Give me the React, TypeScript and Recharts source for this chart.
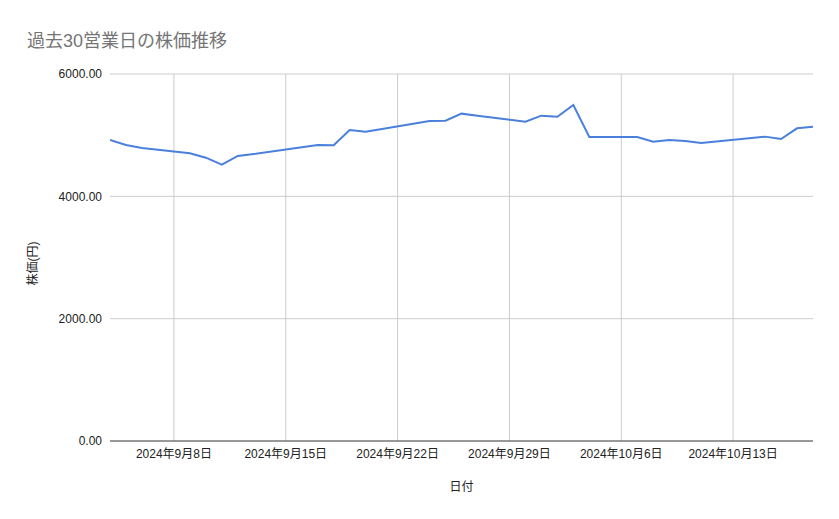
import { LineChart, Line, XAxis, YAxis, Label, ReferenceLine } from 'recharts';

// 過去30営業日（祝日は除外）
const dates = [
  '2024-09-04', '2024-09-05', '2024-09-06', '2024-09-09', '2024-09-10',
  '2024-09-11', '2024-09-12', '2024-09-13', '2024-09-17', '2024-09-18',
  '2024-09-19', '2024-09-20', '2024-09-24', '2024-09-25', '2024-09-26',
  '2024-09-27', '2024-09-30', '2024-10-01', '2024-10-02', '2024-10-03',
  '2024-10-04', '2024-10-07', '2024-10-08', '2024-10-09', '2024-10-10',
  '2024-10-11', '2024-10-15', '2024-10-16', '2024-10-17', '2024-10-18',
];

const prices = [
  4921, 4840, 4790, 4704, 4632,
  4518, 4660, 4692, 4840, 4834,
  5085, 5057, 5232, 5237, 5352,
  5319, 5221, 5319, 5302, 5494,
  4970, 4970, 4894, 4921, 4905,
  4872, 4976, 4937, 5112, 5139,
];

const xTickDates = ['2024-09-08', '2024-09-15', '2024-09-22', '2024-09-29', '2024-10-06', '2024-10-13'];
const xDomainDates = ['2024-09-04', '2024-10-18'];
const yTicks = [0, 2000, 4000, 6000];

const toTs = (s: string) => Date.parse(s + 'T00:00:00Z');

const data = dates.map((d, i) => ({ ts: toTs(d), price: prices[i] }));

const FONT = "Arial, 'Liberation Sans', 'Noto Sans CJK JP', sans-serif";

const formatDate = (ts: number) => {
  const d = new Date(ts);
  return `${d.getUTCFullYear()}年${d.getUTCMonth() + 1}月${d.getUTCDate()}日`;
};

const YTitle = ({ viewBox }: any) => {
  const cy = viewBox.y + viewBox.height / 2 + 6;
  return (
    <text
      x={33}
      y={cy}
      transform={`rotate(-90 33 ${cy})`}
      textAnchor="middle"
      dominantBaseline="central"
      fontSize={12}
      fill="#222"
      fontFamily={FONT}
    >
      株価(円)
    </text>
  );
};

const XTitle = ({ viewBox }: any) => {
  const cx = viewBox.x + viewBox.width / 2;
  return (
    <text x={cx} y={491} textAnchor="middle" fontSize={12} fill="#222" fontFamily={FONT}>
      日付
    </text>
  );
};

export default function App() {
  return (
    <div style={{ position: 'absolute', left: 0, top: 0, width: 839, height: 519, background: '#fff', fontFamily: FONT }}>
      <div style={{ position: 'absolute', left: 27, top: 26, fontSize: 18, color: '#757575', whiteSpace: 'nowrap' }}>
        過去30営業日の株価推移
      </div>
      <LineChart width={839} height={519} data={data} margin={{ top: 74, right: 26, left: 0, bottom: 0 }}>
        {yTicks.slice(1).map((v) => (
          <ReferenceLine key={v} y={v} stroke="#cccccc" />
        ))}
        {xTickDates.map((d) => (
          <ReferenceLine key={d} x={toTs(d)} stroke="#cccccc" />
        ))}
        <XAxis
          dataKey="ts"
          type="number"
          domain={xDomainDates.map(toTs)}
          ticks={xTickDates.map(toTs)}
          interval={0}
          tickFormatter={formatDate}
          tick={{ fontSize: 12, fill: '#222', fontFamily: FONT }}
          tickLine={false}
          axisLine={{ stroke: '#333' }}
          height={78}
          allowDataOverflow
        >
          <Label content={<XTitle />} />
        </XAxis>
        <YAxis
          domain={[0, 6000]}
          ticks={yTicks}
          tickFormatter={(v: number) => v.toFixed(2)}
          tick={{ fontSize: 12, fill: '#222', fontFamily: FONT }}
          tickLine={false}
          axisLine={false}
          width={110}
        >
          <Label content={<YTitle />} />
        </YAxis>
        <Line
          type="linear"
          dataKey="price"
          stroke="#4a80dc"
          strokeWidth={2}
          dot={false}
          isAnimationActive={false}
        />
      </LineChart>
    </div>
  );
}
